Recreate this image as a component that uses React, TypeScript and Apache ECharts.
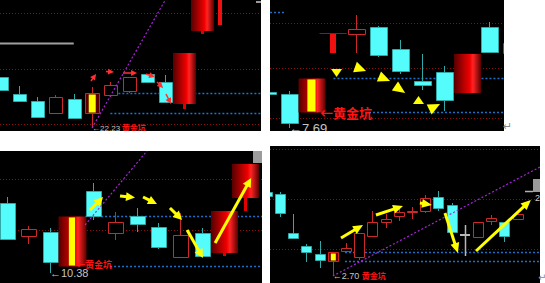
import { useEffect, useRef } from "react";
import * as echarts from "echarts";

// [index, open, close, low, high, kind]
type Candle = [number, number, number, number, number, string];
// [price, fromIndex | null (left edge), toIndex | null (right edge), style]
type Level = [number, number | null, number | null, string];
// [index1, price1, index2, price2]
type Seg = [number, number, number, number];

// ---- panel A (low 22.23) ----
const candlesA: Candle[] = [
  [0, 24.78, 24.13, 24.13, 24.78, "k"],
  [1, 23.93, 23.58, 23.58, 24.33, "k"],
  [2, 23.58, 22.78, 22.78, 23.78, "k"],
  [3, 22.98, 23.78, 22.98, 23.88, "k"],
  [4, 23.68, 22.73, 22.68, 23.93, "k"],
  [5, 22.98, 23.98, 22.23, 24.28, "pit"],
  [6, 23.88, 24.38, 23.78, 24.53, "k"],
  [7, 24.08, 24.78, 23.98, 24.78, "k"],
  [8, 24.93, 24.53, 24.48, 24.93, "k"],
  [9, 24.53, 23.53, 23.53, 24.88, "k"],
  [10, 23.43, 25.98, 23.18, 25.98, "surge"],
  [11, 27.08, 28.9, 26.93, 28.9, "surge"],
  [12, 27.38, 28.9, 27.38, 28.9, "thin"],
];
const levelsA: Level[] = [
  [27.98, null, null, "red"],
  [25.18, null, null, "red"],
  [22.43, null, null, "red"],
  [23.98, 6, null, "blue"],
  [22.98, 6, null, "blue"],
  [26.48, null, 4, "gray"],
];
const trendA: Seg[] = [[5, 22.23, 9, 28.63]];
const arrowsA: Seg[] = [
  [4.94, 24.58, 5.22, 24.93],
  [5.76, 25.055, 6.2, 25.03],
  [6.69, 24.98, 7.46, 24.98],
  [7.95, 24.93, 8.44, 24.78],
  [8.55, 24.53, 8.88, 24.23],
  [9.04, 23.93, 9.31, 23.43],
];
const lowMarkA: [number, number] = [5, 22.23];
const pitTagA: [number, number, string] = [6.62, 22.28, "黄金坑"];

// ---- panel B (low 7.69) ----
const candlesB: Candle[] = [
  [0, 8.41, 8.37, 8.37, 8.41, "k"],
  [1, 8.37, 7.79, 7.69, 8.43, "k"],
  [2, 8.01, 8.69, 8.01, 8.69, "pit"],
  [3, 9.19, 9.59, 9.19, 9.59, "thin"],
  [4, 9.57, 9.67, 9.19, 9.95, "k"],
  [5, 9.71, 9.15, 9.11, 9.73, "k"],
  [6, 9.27, 8.83, 8.77, 9.45, "k"],
  [7, 8.63, 8.55, 8.45, 9.17, "k"],
  [8, 8.81, 8.25, 8.03, 8.93, "k"],
  [9, 8.39, 9.17, 8.39, 9.17, "surge"],
  [10, 9.71, 9.21, 9.21, 9.81, "k"],
  [11, 9.19, 9.39, 9.19, 9.39, "k"],
];
const levelsB: Level[] = [
  [9.79, null, null, "red"],
  [8.89, null, null, "red"],
  [7.89, null, null, "red"],
  [10.01, null, 0.82, "blue"],
  [8.69, 3, null, "blue"],
  [8.01, 4.42, null, "blue"],
];
const trendB: Seg[] = [];
const arrowsB: Seg[] = [
  [3.14, 8.87, 3.14, 8.71],
  [3.97, 8.91, 4.47, 8.83],
  [5.05, 8.72, 5.55, 8.63],
  [5.77, 8.53, 6.23, 8.39],
  [6.83, 8.17, 6.83, 8.33],
  [7.31, 8.06, 7.8, 8.17],
];
const lowMarkB: [number, number] = [1, 7.69];
const pitTagB: [number, number, string] = [2.4, 8.01, "←黄金坑"];

// ---- panel C (low 10.38) ----
const candlesC: Candle[] = [
  [0, 12.48, 11.4, 11.4, 12.66, "k"],
  [1, 11.49, 11.7, 11.25, 11.79, "k"],
  [2, 11.61, 10.71, 10.38, 11.73, "k"],
  [3, 10.59, 12.09, 10.59, 12.09, "pit"],
  [4, 12.84, 12.09, 11.97, 13.08, "k"],
  [5, 11.58, 11.91, 11.37, 12.21, "k"],
  [6, 12.09, 11.85, 11.61, 12.33, "k"],
  [7, 11.76, 11.16, 11.1, 11.88, "k"],
  [8, 10.86, 11.52, 10.86, 12.18, "k"],
  [9, 11.58, 10.89, 10.89, 11.73, "k"],
  [10, 10.98, 12.24, 10.89, 12.24, "surge"],
  [11, 12.63, 13.65, 12.24, 13.65, "surge"],
];
const levelsC: Level[] = [
  [13.2, null, null, "red"],
  [11.67, null, null, "red"],
  [12.09, 3.62, null, "blue"],
  [10.59, 4.77, null, "blue"],
];
const trendC: Seg[] = [[3.62, 11.82, 6.47, 14.04]];
const arrowsC: Seg[] = [
  [3.85, 12.27, 4.45, 12.66],
  [5.23, 12.69, 5.92, 12.645],
  [6.29, 12.66, 6.93, 12.45],
  [7.53, 12.33, 8.09, 11.97],
  [8.32, 11.67, 9.05, 10.83],
  [9.61, 11.28, 11.27, 13.23],
];
const lowMarkC: [number, number] = [2, 10.38];
const pitTagC: [number, number, string] = [3.2, 10.65, "←黄金坑"];

// ---- panel D (low 2.70) ----
const candlesD: Candle[] = [
  [0, 3.54, 3.5, 3.5, 3.54, "k"],
  [1, 3.52, 3.33, 3.29, 3.54, "k"],
  [2, 3.13, 3.08, 3.08, 3.32, "k"],
  [3, 3.0, 2.94, 2.84, 3.02, "k"],
  [4, 2.92, 2.86, 2.78, 3.05, "k"],
  [5, 2.85, 2.94, 2.7, 2.94, "pit"],
  [6, 2.95, 2.98, 2.95, 3.03, "k"],
  [7, 2.89, 3.13, 2.86, 3.13, "k"],
  [8, 3.1, 3.24, 3.1, 3.35, "k"],
  [9, 3.24, 3.27, 3.18, 3.32, "k"],
  [10, 3.3, 3.34, 3.25, 3.38, "k"],
  [11, 3.34, 3.35, 3.27, 3.39, "k"],
  [12, 3.35, 3.48, 3.33, 3.51, "k"],
  [13, 3.49, 3.38, 3.35, 3.55, "k"],
  [14, 3.41, 3.14, 3.14, 3.43, "k"],
  [15, 3.12, 3.1, 2.9, 3.21, "flat"],
  [16, 3.09, 3.24, 3.09, 3.24, "k"],
  [17, 3.25, 3.28, 3.21, 3.31, "k"],
  [18, 3.24, 3.1, 3.04, 3.24, "k"],
  [19, 3.27, 3.32, 3.27, 3.32, "k"],
];
const levelsD: Level[] = [
  [3.97, null, null, "red"],
  [3.47, null, null, "red"],
  [2.97, null, null, "red"],
  [2.94, 5.92, null, "blue"],
  [2.85, 5.92, null, "blue"],
];
const trendD: Seg[] = [[5, 2.7, 20.7, 3.79]];
const arrowsD: Seg[] = [
  [5.62, 3.08, 7.29, 3.21],
  [8.27, 3.31, 10.32, 3.4],
  [11.6, 3.43, 12.51, 3.41],
  [13.5, 3.33, 14.48, 2.93],
  [15.85, 2.95, 20.01, 3.46],
];
const lowMarkD: [number, number] = [5, 2.7];
const pitTagD: [number, number, string] = [7.2, 2.71, "黄金坑"];

// ---- layout and styling ----
const CYAN = "#54FCFC";
const CYAN_EDGE = "#30A8A8";
const RED = "#CC2A2A";
const YELLOW = "#FFFF00";
const GRAY_TXT = "#C4C4C4";
const RED_TXT = "#FF1414";
const NUM_FONT = '"Liberation Sans", "DejaVu Sans", sans-serif';
const CJK_FONT = '"Noto Sans CJK SC", sans-serif';

const LINE_STYLES: Record<string, any> = {
  red: { stroke: "#8E0E0E", lineWidth: 1, lineDash: [1, 2] },
  blue: { stroke: "#1F6FC8", lineWidth: 1.5, lineDash: [2, 2] },
  gray: { stroke: "#A0A0A0", lineWidth: 2 },
  trend: { stroke: "#A626D6", lineWidth: 1.2, lineDash: [2, 2] },
};

const panels = [
  {
    grid: { left: 0, top: 0, width: 261, height: 131 },
    x: [-0.03, 14.23], y: [22.08, 28.63],
    bodyW: 13, bigW: 23, pitW: 14, stripe: 0.5, pitEdge: true, thinW: 4,
    arrow: { color: "#FF3030", shaft: 1.5, head: 6, headW: 6 },
    grayFont: `8px ${NUM_FONT}`, redFont: `bold 8px ${CJK_FONT}`,
    candles: candlesA, levels: levelsA, trend: trendA, arrows: arrowsA, low: lowMarkA, tag: pitTagA,
  },
  {
    grid: { left: 270, top: 0, width: 234, height: 131 },
    x: [0.144, 10.68], y: [7.63, 10.25],
    bodyW: 17, bigW: 27, pitW: 27, stripe: 0.3, pitEdge: false, thinW: 6,
    arrow: { color: YELLOW, shaft: 0, head: 99, headW: 11 },
    grayFont: `13px ${NUM_FONT}`, redFont: `bold 13px ${CJK_FONT}`,
    candles: candlesB, levels: levelsB, trend: trendB, arrows: arrowsB, low: lowMarkB, tag: pitTagB,
  },
  {
    grid: { left: 0, top: 151, width: 262, height: 132 },
    x: [-0.3, 11.77], y: [10.08, 14.04],
    bodyW: 15, bigW: 27, pitW: 28, stripe: 0.22, pitEdge: false, thinW: 4,
    arrow: { color: YELLOW, shaft: 3, head: 9, headW: 9 },
    grayFont: `11px ${NUM_FONT}`, redFont: `bold 9px ${CJK_FONT}`,
    candles: candlesC, levels: levelsC, trend: trendC, arrows: arrowsC, low: lowMarkC, tag: pitTagC,
  },
  {
    grid: { left: 270, top: 146, width: 270, height: 137 },
    x: [0.24, 20.7], y: [2.63, 4.0],
    bodyW: 10, bigW: 20, pitW: 10, stripe: 0.5, pitEdge: true, thinW: 3,
    arrow: { color: YELLOW, shaft: 3, head: 10, headW: 9 },
    grayFont: `9px ${NUM_FONT}`, redFont: `bold 8px ${CJK_FONT}`,
    candles: candlesD, levels: levelsD, trend: trendD, arrows: arrowsD, low: lowMarkD, tag: pitTagD,
  },
];

const redGlow = () =>
  new echarts.graphic.LinearGradient(0, 0, 1, 0, [
    { offset: 0, color: "#560000" },
    { offset: 0.58, color: "#F00000" },
    { offset: 0.7, color: "#FF2424" },
    { offset: 1, color: "#5C0000" },
  ]);

function candleSeries(p: number, cfg: any) {
  const data: Candle[] = cfg.candles;
  return {
    type: "custom",
    xAxisIndex: p,
    yAxisIndex: p,
    clip: true,
    data: data.map((d) => [d[0], d[1], d[2], d[3], d[4]]),
    renderItem: (params: any, api: any) => {
      const [i, o, c, l, h, kind] = data[params.dataIndex];
      const cx = Math.round(api.coord([i, o])[0]);
      const yo = api.coord([i, o])[1];
      const yc = api.coord([i, c])[1];
      const yl = api.coord([i, l])[1];
      const yh = api.coord([i, h])[1];
      const top = Math.round(Math.min(yo, yc));
      const bot = Math.round(Math.max(yo, yc));
      const bh = Math.max(bot - top, 1);
      const kids: any[] = [];
      const wick = (color: string, w = 1) => {
        if (yh < top) kids.push({ type: "line", shape: { x1: cx + 0.5, y1: yh, x2: cx + 0.5, y2: top }, style: { stroke: color, lineWidth: w } });
        if (yl > bot) kids.push({ type: "line", shape: { x1: cx + 0.5, y1: bot, x2: cx + 0.5, y2: yl }, style: { stroke: color, lineWidth: w } });
      };
      if (kind === "k") {
        const w = cfg.bodyW;
        const x0 = Math.round(cx - w / 2) + 0.5;
        if (c >= o) {
          wick(RED);
          kids.push({ type: "rect", shape: { x: x0, y: top + 0.5, width: w, height: bh }, style: { fill: "#000", stroke: RED, lineWidth: 1 } });
        } else {
          wick(CYAN_EDGE);
          kids.push({ type: "rect", shape: { x: x0, y: top + 0.5, width: w, height: bh }, style: { fill: CYAN, stroke: CYAN_EDGE, lineWidth: 1 } });
        }
      } else if (kind === "flat") {
        const w = cfg.bodyW;
        kids.push({ type: "line", shape: { x1: cx + 0.5, y1: yh, x2: cx + 0.5, y2: yl }, style: { stroke: "#B8B8B8", lineWidth: 1.5 } });
        kids.push({ type: "rect", shape: { x: cx - w / 2, y: top, width: w, height: Math.max(bh, 2) }, style: { fill: "#B8B8B8" } });
      } else if (kind === "pit") {
        const w = cfg.pitW;
        const x0 = Math.round(cx - w / 2);
        wick(RED, cfg.pitEdge ? 1 : 2);
        kids.push({
          type: "rect",
          shape: { x: x0 + 0.5, y: top + 0.5, width: w, height: bh },
          style: cfg.pitEdge ? { fill: "#5A0000", stroke: "#D82020", lineWidth: 1 } : { fill: redGlow() },
        });
        const sw = w * cfg.stripe;
        kids.push({ type: "rect", shape: { x: x0 + w * 0.48 - sw / 2 + 0.5, y: top + 1.5, width: sw, height: Math.max(bh - 2, 1) }, style: { fill: YELLOW } });
      } else if (kind === "surge") {
        const w = cfg.bigW;
        wick("#E00000", 3);
        kids.push({ type: "rect", shape: { x: Math.round(cx - w / 2), y: top, width: w, height: bh }, style: { fill: redGlow() } });
      } else if (kind === "thin") {
        const w = cfg.thinW;
        kids.push({ type: "rect", shape: { x: Math.round(cx - w / 2), y: top, width: w, height: bh }, style: { fill: "#F01010" } });
        kids.push({ type: "line", shape: { x1: cx - cfg.bigW / 2, y1: top + 0.5, x2: cx + cfg.bigW / 2, y2: top + 0.5 }, style: { stroke: "#A01010", lineWidth: 1 } });
      }
      return { type: "group", children: kids };
    },
    z: 3,
  };
}

function levelSeries(p: number, cfg: any) {
  const data: Level[] = cfg.levels;
  return {
    type: "custom",
    xAxisIndex: p,
    yAxisIndex: p,
    clip: true,
    data: data.map((d) => [d[1] ?? cfg.x[0], d[0]]),
    renderItem: (params: any, api: any) => {
      const [price, from, to, kind] = data[params.dataIndex];
      const cs = params.coordSys;
      const y = Math.round(api.coord([cfg.x[0], price])[1]) + 0.5;
      const x1 = from == null ? cs.x : api.coord([from, price])[0];
      const x2 = to == null ? cs.x + cs.width : api.coord([to, price])[0];
      return { type: "line", shape: { x1, y1: y, x2, y2: y }, style: LINE_STYLES[kind] };
    },
    z: 2,
  };
}

function trendSeries(p: number, cfg: any) {
  const data: Seg[] = cfg.trend;
  return {
    type: "custom",
    xAxisIndex: p,
    yAxisIndex: p,
    clip: true,
    data: data.map((d) => [d[0], d[1]]),
    renderItem: (params: any, api: any) => {
      const [i1, p1, i2, p2] = data[params.dataIndex];
      const a = api.coord([i1, p1]);
      const b = api.coord([i2, p2]);
      return { type: "line", shape: { x1: a[0], y1: a[1], x2: b[0], y2: b[1] }, style: LINE_STYLES.trend };
    },
    z: 4,
  };
}

function arrowSeries(p: number, cfg: any) {
  const data: Seg[] = cfg.arrows;
  const st = cfg.arrow;
  return {
    type: "custom",
    xAxisIndex: p,
    yAxisIndex: p,
    clip: true,
    data: data.map((d) => [d[0], d[1]]),
    renderItem: (params: any, api: any) => {
      const [i1, p1, i2, p2] = data[params.dataIndex];
      const a = api.coord([i1, p1]);
      const b = api.coord([i2, p2]);
      const dx = b[0] - a[0];
      const dy = b[1] - a[1];
      const len = Math.hypot(dx, dy) || 1;
      const ux = dx / len;
      const uy = dy / len;
      const nx = -uy;
      const ny = ux;
      const hl = Math.min(st.head, len);
      const hw = st.headW / 2;
      const bx = b[0] - ux * hl;
      const by = b[1] - uy * hl;
      const kids: any[] = [];
      if (st.shaft > 0 && len > hl + 0.5) {
        kids.push({ type: "line", shape: { x1: a[0], y1: a[1], x2: bx + ux, y2: by + uy }, style: { stroke: st.color, lineWidth: st.shaft } });
      }
      kids.push({
        type: "polygon",
        shape: { points: [[b[0], b[1]], [bx + nx * hw, by + ny * hw], [bx - nx * hw, by - ny * hw]] },
        style: { fill: st.color },
      });
      return { type: "group", children: kids };
    },
    z: 6,
  };
}

function labelSeries(p: number, cfg: any) {
  const items: [number, number, string, string][] = [
    [cfg.low[0], cfg.low[1], "←" + cfg.low[1].toFixed(2), "gray"],
    [cfg.tag[0], cfg.tag[1], cfg.tag[2], "red"],
  ];
  return {
    type: "custom",
    xAxisIndex: p,
    yAxisIndex: p,
    clip: true,
    data: items.map((d) => [d[0], d[1]]),
    renderItem: (params: any, api: any) => {
      const [i, price, text, tone] = items[params.dataIndex];
      const [x, y] = api.coord([i, price]);
      return {
        type: "text",
        x,
        y,
        style: {
          text,
          fill: tone === "red" ? RED_TXT : GRAY_TXT,
          font: tone === "red" ? cfg.redFont : cfg.grayFont,
          align: "left",
          verticalAlign: "middle",
        },
      };
    },
    z: 7,
  };
}

export default function App() {
  const ref = useRef<HTMLDivElement>(null);

  useEffect(() => {
    if (!ref.current) return;
    const chart = echarts.init(ref.current, undefined, { renderer: "svg" });
    const series: any[] = [];
    panels.forEach((cfg, p) => {
      series.push(levelSeries(p, cfg));
      series.push(candleSeries(p, cfg));
      if (cfg.trend.length) series.push(trendSeries(p, cfg));
      series.push(arrowSeries(p, cfg));
      series.push(labelSeries(p, cfg));
    });
    chart.setOption({
      animation: false,
      backgroundColor: "#FFFFFF",
      grid: panels.map((cfg) => ({
        ...cfg.grid,
        show: true,
        backgroundColor: "#000000",
        borderWidth: 0,
        containLabel: false,
      })),
      xAxis: panels.map((cfg, p) => ({ type: "value", gridIndex: p, min: cfg.x[0], max: cfg.x[1], show: false })),
      yAxis: panels.map((cfg, p) => ({ type: "value", gridIndex: p, min: cfg.y[0], max: cfg.y[1], show: false })),
      series,
      graphic: [
        { type: "rect", shape: { x: 256, y: 1, width: 5, height: 2 }, style: { fill: "#9A9A9A" } },
        { type: "rect", shape: { x: 253, y: 151, width: 9, height: 12 }, style: { fill: "#9C9C9C" } },
        { type: "line", shape: { x1: 525, y1: 191.5, x2: 533, y2: 191.5 }, style: { stroke: "#B0B0B0", lineWidth: 1.5 } },
        { type: "rect", shape: { x: 533, y: 179, width: 7, height: 13 }, style: { fill: "#9A9A9A" } },
        { type: "text", x: 535, y: 193, style: { text: "2", fill: "#CCCCCC", font: `9px ${NUM_FONT}` } },
        { type: "text", x: 503, y: 121, style: { text: "↵", fill: "#8A8A8A", font: `11px "DejaVu Sans"` } },
        { type: "text", x: 538, y: 272, style: { text: "↵", fill: "#8A8A8A", font: `10px "DejaVu Sans"` } },
      ],
    });
    return () => chart.dispose();
  }, []);

  return (
    <div
      ref={ref}
      style={{ position: "fixed", left: 0, top: 0, width: 545, height: 283, background: "#FFFFFF" }}
    />
  );
}
